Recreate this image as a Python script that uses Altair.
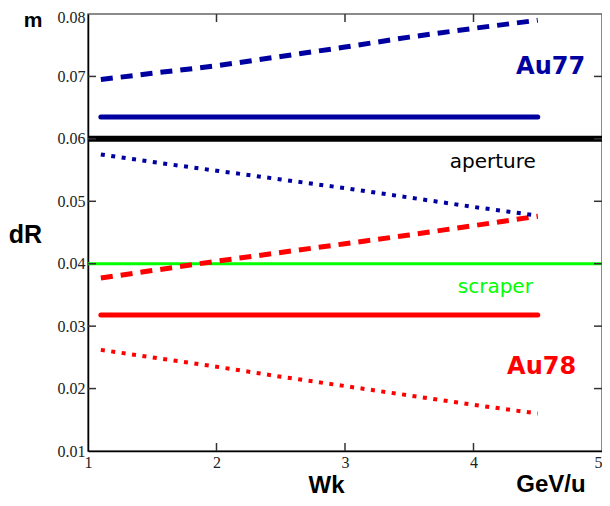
import altair as alt
import pandas as pd

# ---- data ----
x_pts = [1.1, 1.5, 2.0, 2.5, 3.0, 3.5, 4.0, 4.5]
au77_dashed = [0.0695, 0.0705, 0.0717, 0.0732, 0.0747, 0.0763, 0.0777, 0.0790]
au77_dotted = [0.0575, 0.0563, 0.0549, 0.0535, 0.0521, 0.0506, 0.0491, 0.0477]
au78_dashed = [0.0377, 0.0389, 0.0404, 0.0418, 0.0432, 0.0446, 0.0461, 0.0476]
au78_dotted = [0.0262, 0.0250, 0.0235, 0.0219, 0.0204, 0.0189, 0.0174, 0.0160]
x_solid = [1.1, 4.5]
au77_solid = [0.0635, 0.0635]
au78_solid = [0.0318, 0.0318]
x_full = [1.0, 5.0]
aperture_level = [0.06, 0.06]
scraper_level = [0.04, 0.04]

x_ticks = [1, 2, 3, 4, 5]
y_ticks = [0.01, 0.02, 0.03, 0.04, 0.05, 0.06, 0.07, 0.08]
x_inner_ticks = [2, 3, 4]
y_inner_ticks = [0.02, 0.03, 0.04, 0.05, 0.06, 0.07]

in_labels = ["Au77", "aperture", "scraper", "Au78"]
in_label_x = [4.60, 4.15, 4.17, 4.53]
in_label_y = [0.0715, 0.0563, 0.0362, 0.0234]

BLUE = "#0000a0"
RED = "#ff0000"
GREEN = "#00ff00"

W, H = 514, 437

xscale = alt.Scale(domain=[1, 5], nice=False, zero=False)
yscale = alt.Scale(domain=[0.01, 0.08], nice=False, zero=False)

xaxis = alt.Axis(values=x_ticks, format="d", ticks=False, domain=True, domainColor="#000",
                 domainWidth=1.5, grid=False, labelFont="Liberation Serif", labelFontSize=16,
                 labelColor="#222", labelPadding=3, labelFlush=False,
                 labelAlign=alt.expr("datum.value == 5 ? 'right' : 'center'"),
                 title="Wk", titleFont="Liberation Sans", titleFontSize=24, titleFontWeight="bold",
                 titleColor="#000", titleX=238, titleY=34, titleAlign="center",
                 titleBaseline="middle")
yaxis = alt.Axis(values=y_ticks, format=".2f", ticks=False, domain=True, domainColor="#000",
                 domainWidth=1.5, grid=False, labelFont="Liberation Serif", labelFontSize=16,
                 labelColor="#222", labelPadding=3, labelFlush=False,
                 labelOffset=alt.expr("datum.value == 0.08 ? 3 : 0"),
                 title="dR", titleFont="Liberation Sans", titleFontSize=25, titleFontWeight="bold",
                 titleColor="#000", titleAngle=0, titleX=-63, titleY=220, titleAlign="center",
                 titleBaseline="middle")


def X(f="x"):
    return alt.X(f"{f}:Q", scale=xscale, axis=xaxis)


def Y(f="y"):
    return alt.Y(f"{f}:Q", scale=yscale, axis=yaxis)


series = [
    (x_full, aperture_level, "#000000", 6, None),
    (x_full, scraper_level, GREEN, 3, None),
    (x_solid, au77_solid, BLUE, 5, None),
    (x_solid, au78_solid, RED, 5, None),
    (x_pts, au77_dashed, BLUE, 5, [12, 8]),
    (x_pts, au78_dashed, RED, 5, [12, 8]),
    (x_pts, au77_dotted, BLUE, 4, [4, 6.5]),
    (x_pts, au78_dotted, RED, 4, [4, 6.5]),
]

layers = []
for xs, ys, col, w, dash in series:
    df = pd.DataFrame({"x": xs, "y": ys})
    kw = dict(color=col, strokeWidth=w, clip=True)
    if dash:
        kw["strokeDash"] = dash
        kw["strokeCap"] = "butt"
    else:
        kw["strokeCap"] = "round" if w < 6 else "butt"
    layers.append(alt.Chart(df).mark_line(**kw).encode(x=X(), y=Y()))

# inward ticks on all four sides
tx = 8 / (W / 4.0)
ty = 8 / (H / 0.07)
bottom_t = pd.DataFrame({"x": x_inner_ticks, "y": [0.01] * 3, "y2": [0.01 + ty] * 3})
top_t = pd.DataFrame({"x": x_inner_ticks, "y": [0.08] * 3, "y2": [0.08 - ty] * 3})
left_t = pd.DataFrame({"x": [1.0] * 6, "x2": [1.0 + tx] * 6, "y": y_inner_ticks})
right_t = pd.DataFrame({"x": [5.0] * 6, "x2": [5.0 - tx] * 6, "y": y_inner_ticks})
for d in (bottom_t, top_t):
    layers.append(alt.Chart(d).mark_rule(color="#333", strokeWidth=1.5).encode(
        x=X(), y=Y(), y2="y2:Q"))
for d in (left_t, right_t):
    layers.append(alt.Chart(d).mark_rule(color="#333", strokeWidth=1.5).encode(
        x=X(), x2="x2:Q", y=Y()))

lab_df = pd.DataFrame({"t": in_labels, "x": in_label_x, "y": in_label_y,
                       "c": [BLUE, "#000000", GREEN, RED],
                       "w": ["bold", "normal", "normal", "bold"],
                       "s": [24, 20, 20, 24]})
for i in range(len(in_labels)):
    row = lab_df.iloc[[i]]
    layers.append(alt.Chart(row).mark_text(
        font="DejaVu Sans", fontSize=int(row["s"].iloc[0]), fontWeight=row["w"].iloc[0],
        color=row["c"].iloc[0], align="center", baseline="middle").encode(
        x=X(), y=Y(), text="t:N"))

# outer unit labels
outer = pd.DataFrame({"t": ["m", "GeV/u"]})
layers.append(alt.Chart(outer.iloc[[0]]).mark_text(
    font="Liberation Sans", fontSize=21, fontWeight="bold", color="#000",
    align="center", baseline="alphabetic").encode(text="t:N", x=alt.value(-55), y=alt.value(13)))
layers.append(alt.Chart(outer.iloc[[1]]).mark_text(
    font="Liberation Sans", fontSize=24, fontWeight="bold", color="#000",
    align="center", baseline="middle").encode(text="t:N", x=alt.value(463), y=alt.value(H + 34)))

chart = alt.layer(*layers).properties(
    width=W, height=H,
    autosize=alt.AutoSizeParams(type="none"),
    padding={"left": 80, "top": 6, "right": 0, "bottom": 46},
    background="#ffffff",
).configure_view(stroke="#666", strokeWidth=1.5)

chart.save("out.html", embed_options={"renderer": "svg", "actions": False})
